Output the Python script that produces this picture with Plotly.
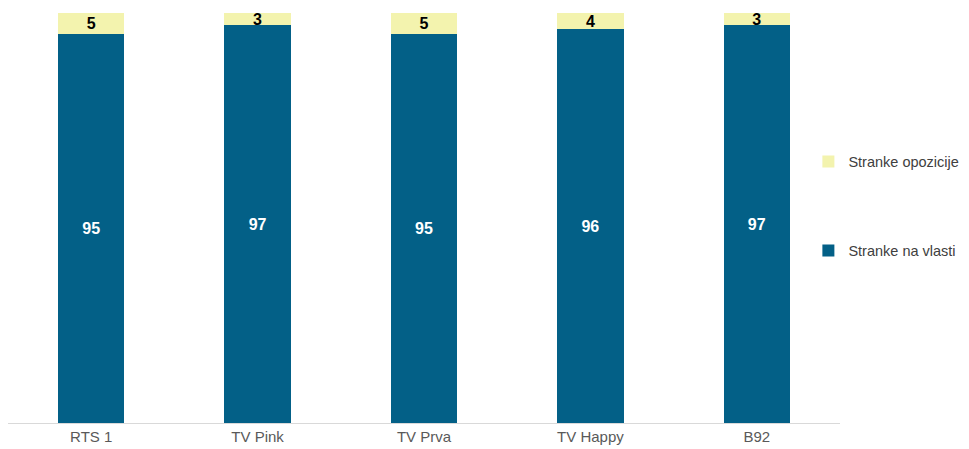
import plotly.graph_objects as go

categories = ["RTS 1", "TV Pink", "TV Prva", "TV Happy", "B92"]
vlast = [95, 97, 95, 96, 97]
opozicija = [5, 3, 5, 4, 3]

blue = "rgb(3,96,135)"
yellow = "rgb(243,243,174)"

fig = go.Figure()
fig.add_trace(go.Bar(
    x=categories, y=vlast, name="Stranke na vlasti",
    marker=dict(color=blue, line=dict(width=0)),
    text=[str(v) for v in vlast], textposition="inside", insidetextanchor="middle",
    textangle=0,
    textfont=dict(color="white", size=16, family="Liberation Sans", weight="bold"),
    legendgroup="b", legendrank=2, hoverinfo="x+y+name",
))
fig.add_trace(go.Bar(
    x=categories, y=opozicija, name="Stranke opozicije",
    marker=dict(color=yellow, line=dict(width=0)),
    text=[str(v) for v in opozicija], textposition="inside", insidetextanchor="middle",
    textangle=0,
    textfont=dict(color="black", size=16, family="Liberation Sans", weight="bold"),
    legendgroup="a", legendrank=1, hoverinfo="x+y+name",
))

fig.update_layout(
    barmode="stack",
    bargap=0.6,
    width=961, height=441,
    margin=dict(l=0, r=129, t=5, b=26, autoexpand=False),
    paper_bgcolor="white", plot_bgcolor="white",
    font=dict(family="Liberation Sans", color="#595959", size=15),
    uniformtext=dict(minsize=16, mode="show"),
    legend=dict(
        x=0.962, xanchor="left", y=0.529, yanchor="middle",
        traceorder="grouped", tracegroupgap=67,
        font=dict(size=14.5, color="#404040"),
        itemwidth=30,
    ),
    xaxis=dict(
        showline=True, linecolor="#d9d9d9", linewidth=1,
        ticks="", tickfont=dict(size=15, color="#595959"),
    ),
    yaxis=dict(range=[0, 100], visible=False, showgrid=False),
)

fig.write_html("out.html")
